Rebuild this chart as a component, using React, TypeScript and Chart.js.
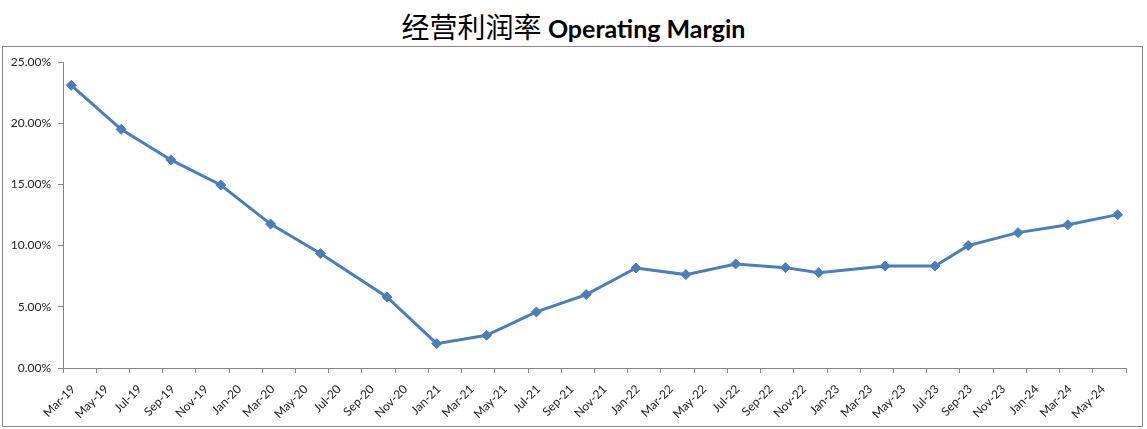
import React, { useEffect, useRef } from "react";
import { Chart, registerables } from "chart.js";

Chart.register(...registerables);

const months = [
  "Mar-19", "Apr-19", "May-19", "Jun-19", "Jul-19", "Aug-19", "Sep-19", "Oct-19", "Nov-19", "Dec-19",
  "Jan-20", "Feb-20", "Mar-20", "Apr-20", "May-20", "Jun-20", "Jul-20", "Aug-20", "Sep-20", "Oct-20", "Nov-20", "Dec-20",
  "Jan-21", "Feb-21", "Mar-21", "Apr-21", "May-21", "Jun-21", "Jul-21", "Aug-21", "Sep-21", "Oct-21", "Nov-21", "Dec-21",
  "Jan-22", "Feb-22", "Mar-22", "Apr-22", "May-22", "Jun-22", "Jul-22", "Aug-22", "Sep-22", "Oct-22", "Nov-22", "Dec-22",
  "Jan-23", "Feb-23", "Mar-23", "Apr-23", "May-23", "Jun-23", "Jul-23", "Aug-23", "Sep-23", "Oct-23", "Nov-23", "Dec-23",
  "Jan-24", "Feb-24", "Mar-24", "Apr-24", "May-24", "Jun-24",
];

const pointMonths = [
  "Mar-19", "Jun-19", "Sep-19", "Dec-19", "Mar-20", "Jun-20", "Oct-20", "Jan-21", "Apr-21", "Jul-21", "Oct-21",
  "Jan-22", "Apr-22", "Jul-22", "Oct-22", "Dec-22", "Apr-23", "Jul-23", "Sep-23", "Dec-23", "Mar-24", "Jun-24",
];

const margins = [
  23.1, 19.5, 17.0, 14.95, 11.76, 9.35, 5.8, 1.99, 2.67, 4.58, 6.0,
  8.17, 7.63, 8.5, 8.2, 7.79, 8.33, 8.33, 10.0, 11.06, 11.7, 12.53,
];

const yTicks = [0, 5, 10, 15, 20, 25];

const AXIS = "#868686";
const LINE = "#4A7EBB";
const TEXT = "#222222";

export default function App() {
  const ref = useRef<HTMLCanvasElement | null>(null);

  useEffect(() => {
    document.body.style.margin = "0";
    if (!ref.current) return;
    const tickFont = { family: "Lato", size: 12 };
    const chart = new Chart(ref.current, {
      type: "line",
      data: {
        labels: months,
        datasets: [
          {
            label: "Operating Margin",
            data: pointMonths.map((m, i) => ({ x: m, y: margins[i] })),
            borderColor: LINE,
            backgroundColor: LINE,
            borderWidth: 3,
            pointStyle: "rectRot",
            pointRadius: 5,
            pointHoverRadius: 5,
            pointBorderWidth: 1,
            tension: 0,
          },
        ],
      },
      options: {
        animation: false,
        responsive: false,
        maintainAspectRatio: false,
        layout: { padding: { left: 0, top: 62, right: 21, bottom: 11 } },
        plugins: { legend: { display: false }, tooltip: { enabled: false }, title: { display: false } },
        scales: {
          x: {
            type: "category",
            offset: true,
            grid: {
              offset: true,
              drawOnChartArea: false,
              drawTicks: true,
              tickLength: 5,
              color: (ctx: any) =>
                ctx.index === undefined || ctx.index % 2 === 0 ? AXIS : "rgba(0,0,0,0)",
            },
            border: { display: true, color: AXIS, width: 1 },
            ticks: {
              autoSkip: false,
              maxRotation: 45,
              minRotation: 45,
              labelOffset: 2,
              padding: 9,
              font: tickFont,
              color: TEXT,
              callback: (_v: any, i: number) => (i % 2 === 0 ? months[i] : ""),
            },
            afterFit: (scale: any) => {
              scale.height = 50;
            },
          },
          y: {
            min: 0,
            max: 25,
            afterBuildTicks: (scale: any) => {
              scale.ticks = yTicks.map((v) => ({ value: v }));
            },
            grid: { drawOnChartArea: false, drawTicks: true, tickLength: 5, color: AXIS },
            border: { display: true, color: AXIS, width: 1 },
            ticks: {
              padding: 7,
              font: tickFont,
              color: TEXT,
              callback: (v: any) => Number(v).toFixed(2) + "%",
            },
            afterFit: (scale: any) => {
              scale.width = 63;
            },
          },
        },
      },
    });
    return () => chart.destroy();
  }, []);

  return (
    <div style={{ position: "relative", width: 1147, height: 429, background: "#fff", overflow: "hidden" }}>
      <div
        style={{
          position: "absolute",
          left: 0,
          top: 9,
          width: 1147,
          height: 34,
          lineHeight: "34px",
          textAlign: "center",
          whiteSpace: "nowrap",
          color: "#000",
        }}
      >
        <span style={{ fontFamily: "'Noto Sans CJK SC'", fontSize: 28, fontWeight: 400 }}>经营利润率 </span>
        <span style={{ fontFamily: "Lato", fontSize: 25, fontWeight: 700 }}>Operating Margin</span>
      </div>
      <div
        style={{
          position: "absolute",
          left: 2,
          top: 46,
          width: 1141,
          height: 381,
          boxSizing: "border-box",
          border: "1px solid #878787",
        }}
      />
      <canvas
        ref={ref}
        width={1147}
        height={429}
        style={{ position: "absolute", left: 0, top: 0, width: 1147, height: 429 }}
      />
    </div>
  );
}
